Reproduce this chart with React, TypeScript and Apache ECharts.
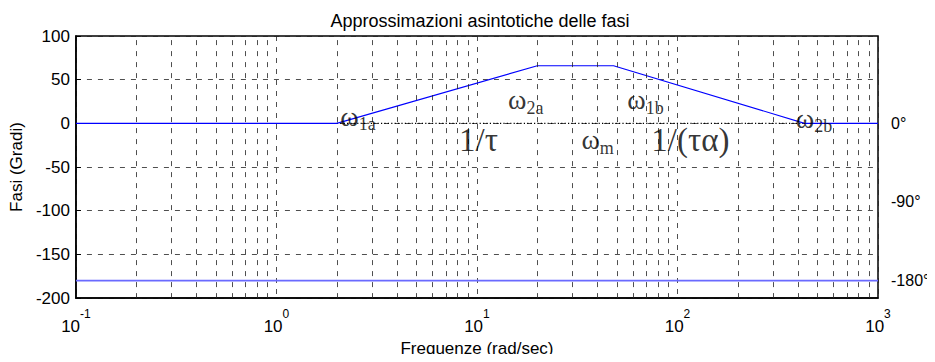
import React, { useEffect, useRef } from "react";
import * as echarts from "echarts";

// ---- data ----
const TITLE = "Approssimazioni asintotiche delle fasi";
const X_NAME = "Frequenze (rad/sec)";
const Y_NAME = "Fasi (Gradi)";

// asymptotic phase approximation (blue)
const APPROX_FREQ = [0.1, 2, 20, 48, 430, 1000];
const APPROX_PHASE = [0, 0, 66, 66, 0, 0];

// dotted zero reference
const ZERO_FREQ = [2, 430];
const ZERO_PHASE = [0, 0];

// -180 reference line
const M180_FREQ = [0.1, 1000];
const M180_PHASE = [-180, -180];

// axes
const X_MIN = 0.1;
const X_MAX = 1000;
const Y_MIN = -200;
const Y_MAX = 100;
const Y_STEP = 50;
const DECADES = [0.1, 1, 10, 100];
const MINOR_MULTS = [2, 3, 4, 5, 6, 7, 8, 9];
const RIGHT_LABELS = [0, -90, -180];

// annotations
const ANNOT_FREQ = [2.07, 14.2, 55.9, 387, 33.0, 8.09, 73.6];
const ANNOT_PHASE = [6.2, 25.2, 25.2, 3.9, -20.4, -19.4, -18.8];
const ANNOT_TEXT = [
  "{w|ω}{s|1a}",
  "{w|ω}{s|2a}",
  "{w|ω}{s|1b}",
  "{w|ω}{s|2b}",
  "{w|ω}{s|m}",
  "{t|1/τ}",
  "{t|1/(τα)}",
];

const SANS = "Liberation Sans";
const SERIF = "Liberation Serif";

export default function App() {
  const ref = useRef<HTMLDivElement>(null);

  useEffect(() => {
    if (!ref.current) return;
    const chart = echarts.init(ref.current, undefined, { renderer: "svg" });

    const minorGrid = DECADES.flatMap((d) => MINOR_MULTS.map((m) => d * m));
    const gridLineStyle = { color: "#222", width: 0.8, type: [5, 6] as any };

    chart.setOption({
      animation: false,
      backgroundColor: "#fff",
      title: {
        text: TITLE,
        left: 475,
        textAlign: "center",
        top: 7,
        textStyle: { fontFamily: SANS, fontSize: 18, fontWeight: "normal", color: "#000" },
      },
      grid: {
        left: 73,
        right: 57,
        top: 36,
        bottom: 59,
        show: true,
        borderColor: "#000",
        borderWidth: 1.5,
        backgroundColor: "transparent",
      },
      xAxis: {
        type: "log",
        logBase: 10,
        min: X_MIN,
        max: X_MAX,
        name: X_NAME,
        nameLocation: "middle",
        nameGap: 39,
        nameTextStyle: { fontFamily: SANS, fontSize: 17, color: "#000" },
        axisLine: { show: true, onZero: false, lineStyle: { color: "#000", width: 1.5 } },
        axisTick: { show: false },
        splitLine: { show: true, lineStyle: gridLineStyle },
        axisLabel: {
          margin: 10,
          formatter: (v: number) => `{b|10}{e|${Math.round(Math.log10(v))}}`,
          rich: {
            b: { fontFamily: SANS, fontSize: 17, color: "#000", verticalAlign: "bottom" },
            e: { fontFamily: SANS, fontSize: 12, color: "#000", verticalAlign: "bottom", padding: [0, 0, 15, 0] },
          },
        },
      },
      yAxis: [
        {
          type: "value",
          min: Y_MIN,
          max: Y_MAX,
          interval: Y_STEP,
          name: Y_NAME,
          nameLocation: "middle",
          nameGap: 47,
          nameTextStyle: { fontFamily: SANS, fontSize: 17, color: "#000" },
          axisLine: { show: true, lineStyle: { color: "#000", width: 1.5 } },
          axisTick: { show: true, inside: true, length: 5, lineStyle: { color: "#000" } },
          splitLine: { show: true, lineStyle: gridLineStyle },
          axisLabel: { fontFamily: SANS, fontSize: 17, color: "#000", margin: 6 },
        },
        {
          type: "value",
          position: "right",
          min: Y_MIN,
          max: Y_MAX,
          interval: 10,
          axisLine: { show: false },
          axisTick: { show: false },
          splitLine: { show: false },
          axisLabel: {
            fontFamily: SANS,
            fontSize: 16,
            color: "#000",
            margin: 13,
            formatter: (v: number) => (RIGHT_LABELS.includes(v) ? `${v}°` : ""),
          },
        },
      ],
      series: [
        {
          name: "minor-grid",
          type: "line",
          data: [],
          silent: true,
          markLine: {
            silent: true,
            symbol: "none",
            label: { show: false },
            lineStyle: gridLineStyle,
            data: minorGrid.map((v) => ({ xAxis: v })),
          },
        },
        {
          name: "zero",
          type: "line",
          data: ZERO_FREQ.map((f, i) => [f, ZERO_PHASE[i]]),
          showSymbol: false,
          lineStyle: { color: "#000", width: 1.2, type: [1.2, 2.2] as any },
        },
        {
          name: "m180",
          type: "line",
          data: M180_FREQ.map((f, i) => [f, M180_PHASE[i]]),
          showSymbol: false,
          lineStyle: { color: "#6a6aff", width: 1.6 },
        },
        {
          name: "approx",
          type: "line",
          data: APPROX_FREQ.map((f, i) => [f, APPROX_PHASE[i]]),
          showSymbol: false,
          lineStyle: { color: "#0000ff", width: 1.1 },
        },
        {
          name: "annotations",
          type: "scatter",
          symbolSize: 1,
          itemStyle: { color: "rgba(0,0,0,0)" },
          silent: true,
          z: 5,
          data: ANNOT_FREQ.map((f, i) => ({
            value: [f, ANNOT_PHASE[i]],
            label: { formatter: ANNOT_TEXT[i] },
          })),
          label: {
            show: true,
            position: "right",
            distance: 0,
            color: "#000",
            rich: {
              w: { fontFamily: SERIF, fontSize: 28, color: "#000", verticalAlign: "bottom", padding: [0, 0, 3, 0] },
              s: { fontFamily: SERIF, fontSize: 18, color: "#000", verticalAlign: "bottom" },
              t: { fontFamily: SERIF, fontSize: 33, color: "#000" },
            },
          },
        },
      ],
    });

    return () => chart.dispose();
  }, []);

  return <div ref={ref} style={{ width: 935, height: 362, margin: -8 }} />;
}
